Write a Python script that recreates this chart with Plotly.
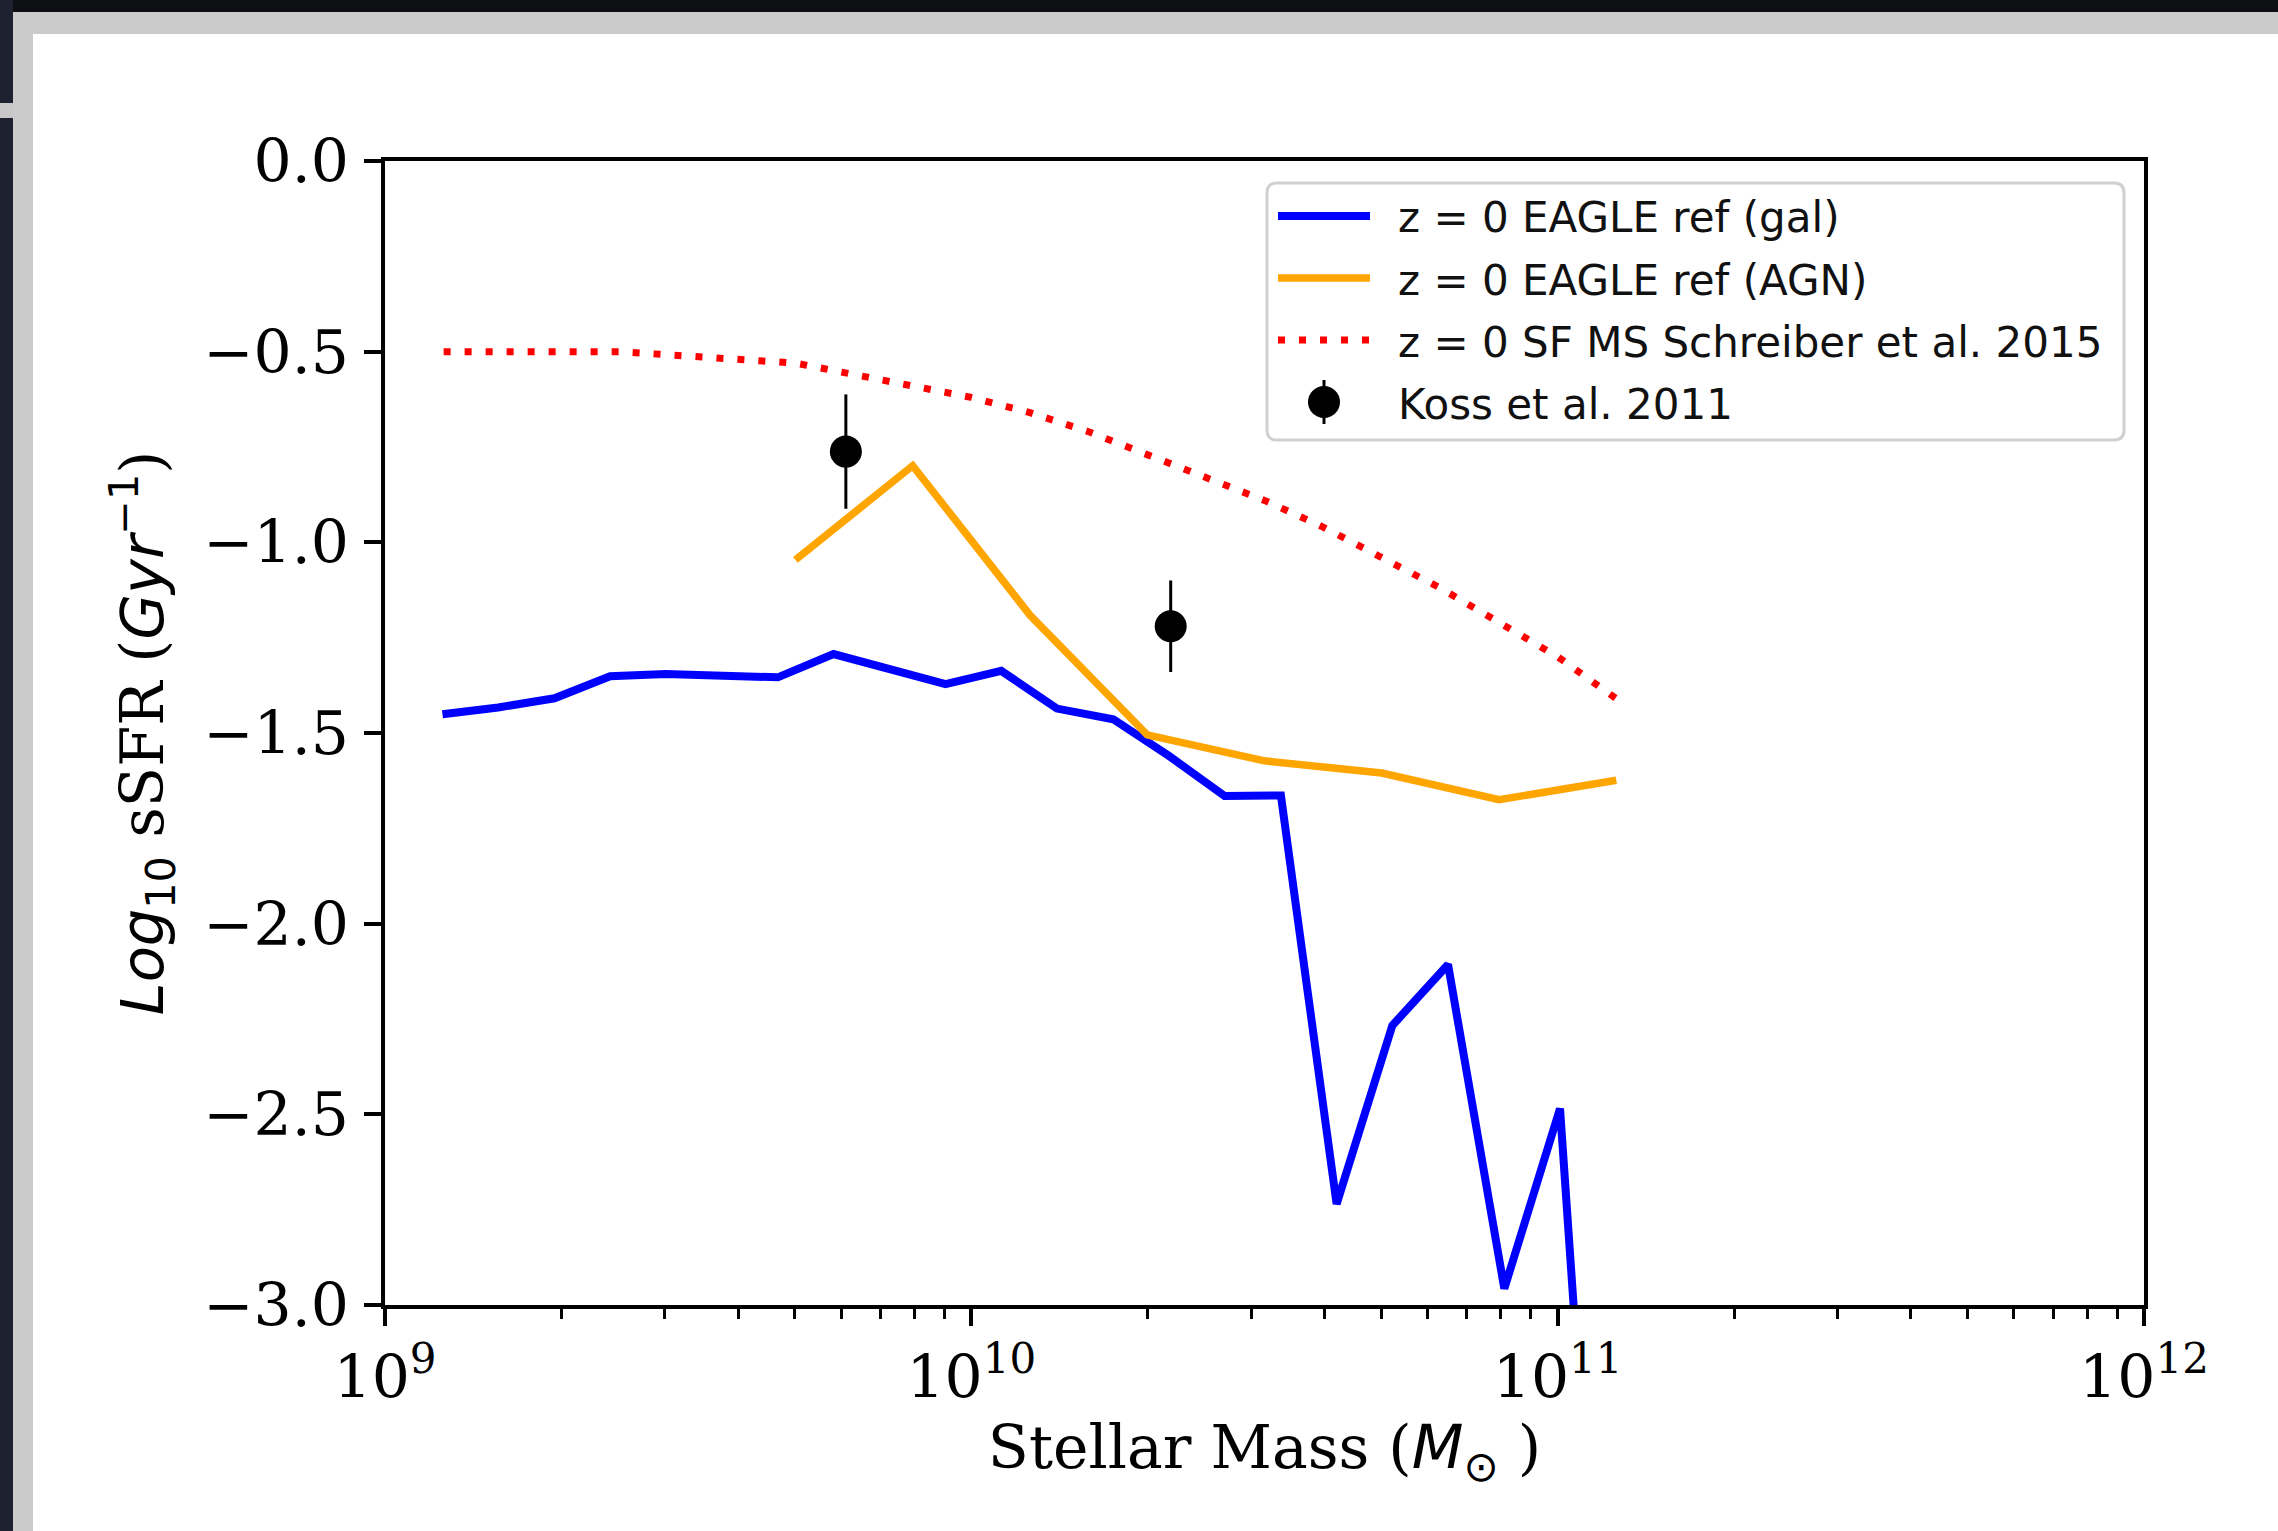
import plotly.graph_objects as go

# ---------------- data ----------------
gal_logm = [9.098, 9.193, 9.289, 9.384, 9.479, 9.575, 9.670, 9.765, 9.860, 9.956,
            10.051, 10.146, 10.242, 10.337, 10.432, 10.528, 10.623, 10.718, 10.813,
            10.909, 11.004, 11.099]
gal_ssfr = [-1.451, -1.433, -1.409, -1.351, -1.345, -1.350, -1.354, -1.293, -1.333, -1.372,
            -1.337, -1.436, -1.464, -1.560, -1.665, -1.664, -2.735, -2.267, -2.107,
            -2.957, -2.485, -4.60]

agn_logm = [9.70, 9.90, 10.10, 10.30, 10.50, 10.70, 10.90, 11.10]
agn_ssfr = [-1.046, -0.799, -1.191, -1.505, -1.573, -1.605, -1.675, -1.624]

ms_logm = [9.1, 9.2, 9.3, 9.4, 9.5, 9.6, 9.7, 9.8, 9.9, 10.0, 10.1, 10.2, 10.3, 10.4,
           10.5, 10.6, 10.7, 10.8, 10.9, 11.0, 11.1]
ms_ssfr = [-0.50, -0.50, -0.50, -0.50, -0.51, -0.52, -0.53, -0.56, -0.59, -0.62, -0.66,
           -0.71, -0.77, -0.83, -0.89, -0.96, -1.04, -1.12, -1.21, -1.30, -1.41]

koss_logm = [9.786, 10.340]
koss_ssfr = [-0.762, -1.220]
koss_err = [0.15, 0.12]

legend_labels = ["z = 0 EAGLE ref (gal)", "z = 0 EAGLE ref (AGN)",
                 "z = 0 SF MS Schreiber et al. 2015", "Koss et al. 2011"]

x_tickvals = [1e9, 1e10, 1e11, 1e12]
x_ticktext = ["10<sup>9</sup>", "10<sup>10</sup>", "10<sup>11</sup>", "10<sup>12</sup>"]
y_tickvals = [-3.0, -2.5, -2.0, -1.5, -1.0, -0.5, 0.0]
y_ticktext = ["\u22123.0", "\u22122.5", "\u22122.0", "\u22121.5", "\u22121.0", "\u22120.5", "0.0"]

# ---------------- layout geometry ----------------
W, H = 2278, 1531
L, R, T, B = 385, 2144, 161, 1305
PW, PH = R - L, B - T


def px(X):
    return (X - L) / PW


def py(Y):
    return 1 - (Y - T) / PH


def m(v):
    return [10 ** a for a in v]


BLUE, ORANGE, RED = "#0000ff", "#ffa500", "#ff0000"
SERIF = "DejaVu Serif"
SANS = "DejaVu Sans"
LW_BLUE, LW_ORANGE, LW_RED = 8, 7.5, 7
RED_DASH = "7px,14px"

fig = go.Figure()
fig.add_trace(go.Scatter(x=m(gal_logm), y=gal_ssfr, mode="lines",
                         line=dict(color=BLUE, width=LW_BLUE), name=legend_labels[0],
                         showlegend=False))
fig.add_trace(go.Scatter(x=m(agn_logm), y=agn_ssfr, mode="lines",
                         line=dict(color=ORANGE, width=LW_ORANGE), name=legend_labels[1],
                         showlegend=False))
fig.add_trace(go.Scatter(x=m(ms_logm), y=ms_ssfr, mode="lines",
                         line=dict(color=RED, width=LW_RED, dash=RED_DASH),
                         name=legend_labels[2], showlegend=False))
fig.add_trace(go.Scatter(x=m(koss_logm), y=koss_ssfr, mode="markers",
                         marker=dict(color="black", size=32),
                         error_y=dict(type="data", array=koss_err, color="black",
                                      thickness=3, width=0),
                         name=legend_labels[3], showlegend=False))

shapes = []
# screenshot surroundings
shapes.append(dict(type="rect", xref="paper", yref="paper", x0=px(0), x1=px(W),
                   y0=py(0), y1=py(12), fillcolor="#0e0f12", line=dict(width=0), layer="below"))
shapes.append(dict(type="rect", xref="paper", yref="paper", x0=px(0), x1=px(13),
                   y0=py(0), y1=py(H), fillcolor="#1d2130", line=dict(width=0), layer="below"))
shapes.append(dict(type="rect", xref="paper", yref="paper", x0=px(0), x1=px(13),
                   y0=py(103), y1=py(118), fillcolor="#c8c8c8", line=dict(width=0), layer="below"))
shapes.append(dict(type="rect", xref="paper", yref="paper", x0=px(13), x1=px(W),
                   y0=py(12), y1=py(34), fillcolor="#cbcbcb", line=dict(width=0), layer="below"))
shapes.append(dict(type="rect", xref="paper", yref="paper", x0=px(13), x1=px(33),
                   y0=py(12), y1=py(H), fillcolor="#cbcbcb", line=dict(width=0), layer="below"))

# legend box (rounded)
bx0, bx1, by0, by1, r = 1267, 2124, 183, 440, 10


def pp(X, Y):
    return f"{px(X):.5f},{py(Y):.5f}"


path = (f"M{pp(bx0 + r, by0)} L{pp(bx1 - r, by0)} Q{pp(bx1, by0)} {pp(bx1, by0 + r)} "
        f"L{pp(bx1, by1 - r)} Q{pp(bx1, by1)} {pp(bx1 - r, by1)} "
        f"L{pp(bx0 + r, by1)} Q{pp(bx0, by1)} {pp(bx0, by1 - r)} "
        f"L{pp(bx0, by0 + r)} Q{pp(bx0, by0)} {pp(bx0 + r, by0)} Z")
shapes.append(dict(type="path", xref="paper", yref="paper", path=path,
                   fillcolor="rgba(255,255,255,0.85)", line=dict(color="#d0d0d0", width=3)))

rows = [216, 278, 340, 402]
lx0, lx1 = 1278, 1370
shapes.append(dict(type="line", xref="paper", yref="paper", x0=px(lx0), x1=px(lx1),
                   y0=py(rows[0]), y1=py(rows[0]), line=dict(color=BLUE, width=LW_BLUE)))
shapes.append(dict(type="line", xref="paper", yref="paper", x0=px(lx0), x1=px(lx1),
                   y0=py(rows[1]), y1=py(rows[1]), line=dict(color=ORANGE, width=LW_ORANGE)))
shapes.append(dict(type="line", xref="paper", yref="paper", x0=px(lx0), x1=px(lx1),
                   y0=py(rows[2]), y1=py(rows[2]), line=dict(color=RED, width=LW_RED, dash=RED_DASH)))
cx = (lx0 + lx1) / 2
shapes.append(dict(type="line", xref="paper", yref="paper", x0=px(cx), x1=px(cx),
                   y0=py(rows[3] - 22), y1=py(rows[3] + 22), line=dict(color="black", width=3)))
shapes.append(dict(type="circle", xref="paper", yref="paper", x0=px(cx - 16), x1=px(cx + 16),
                   y0=py(rows[3] - 16), y1=py(rows[3] + 16), fillcolor="black",
                   line=dict(color="black", width=0)))

annotations = []
for lab, yy in zip(legend_labels, rows):
    annotations.append(dict(x=px(1396), y=py(yy + 2), xref="paper", yref="paper",
                            text=lab, showarrow=False, xanchor="left", yanchor="middle",
                            font=dict(family=SANS, size=42, color="#111111")))

ylab = (f"<span style='font-family:{SANS}'><i>Log</i><sub>10</sub></span> sSFR "
        f"(<span style='font-family:{SANS}'><i>Gyr</i><sup>\u22121</sup></span>)")
xlab = f"Stellar Mass (<span style='font-family:{SANS}'><i>M</i><sub>\u2299</sub></span> )"

minor_vals = [k * 10 ** e for e in (9, 10, 11) for k in range(2, 10)]

fig.update_layout(
    width=W, height=H,
    margin=dict(l=L, r=W - R, t=T, b=H - B, pad=0),
    paper_bgcolor="white", plot_bgcolor="white",
    font=dict(family=SERIF, size=60, color="black"),
    shapes=shapes, annotations=annotations, showlegend=False,
    xaxis=dict(type="log", range=[9, 12], tickvals=x_tickvals, ticktext=x_ticktext,
               ticks="outside", ticklen=17, tickwidth=4, tickcolor="black",
               showline=True, linewidth=4, linecolor="black", mirror=True,
               showgrid=False, zeroline=False,
               tickfont=dict(family=SERIF, size=60, color="black"),
               ticklabelstandoff=0,
               minor=dict(tickvals=minor_vals, ticks="outside", ticklen=10, tickwidth=3,
                          tickcolor="black", showgrid=False),
               title=dict(text=xlab, font=dict(family=SERIF, size=60, color="black"),
                          standoff=8)),
    yaxis=dict(range=[-3, 0], tickvals=y_tickvals, ticktext=y_ticktext,
               ticks="outside", ticklen=17, tickwidth=4, tickcolor="black",
               showline=True, linewidth=4, linecolor="black", mirror=True,
               showgrid=False, zeroline=False,
               tickfont=dict(family=SERIF, size=60, color="black"),
               ticklabelstandoff=3,
               title=dict(text=ylab, font=dict(family=SERIF, size=59, color="black"),
                          standoff=22)),
)

fig.write_html("out.html", config={"displayModeBar": False},
               post_script="document.body.style.margin='0';document.body.style.overflow='hidden';")
